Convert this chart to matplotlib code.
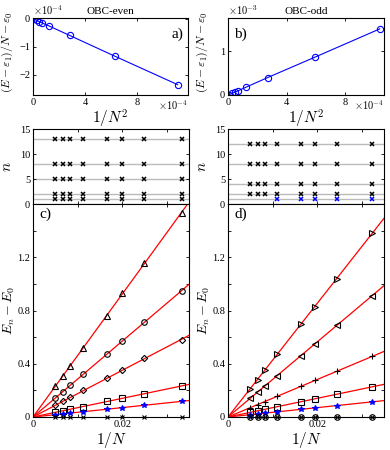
import numpy as np
import matplotlib
matplotlib.use("Agg")
import matplotlib.pyplot as plt
from matplotlib.ticker import FuncFormatter

plt.rcParams['font.family'] = ['Liberation Serif', 'DejaVu Serif']
plt.rcParams['mathtext.fontset'] = 'cm'
plt.rcParams['xtick.direction'] = 'in'
plt.rcParams['ytick.direction'] = 'in'
plt.rcParams['xtick.top'] = True
plt.rcParams['ytick.right'] = True
plt.rcParams['xtick.labelsize'] = 7.5
plt.rcParams['ytick.labelsize'] = 7.5
plt.rcParams['axes.linewidth'] = 0.8

# ---- top panels: (E - eps1)/N - eps0 vs 1/N^2 ----
invN2_even = [11.1e-4, 6.25e-4, 2.78e-4, 1.23e-4, 0.69e-4, 0.44e-4, 0.25e-4, 0.03e-4]
gap_even = [-2.35e-4, -1.33e-4, -0.59e-4, -0.26e-4, -0.15e-4, -0.095e-4, -0.055e-4, -0.01e-4]
invN2_odd = [10.41e-4, 5.95e-4, 2.69e-4, 1.21e-4, 0.68e-4, 0.44e-4, 0.25e-4, 0.03e-4]
gap_odd = [1.52e-3, 0.87e-3, 0.40e-3, 0.18e-3, 0.10e-3, 0.064e-3, 0.037e-3, 0.005e-3]

# ---- middle/bottom panels: x = 1/N ----
N_even = [200, 150, 120, 90, 60, 50, 40, 30]
N_odd = [201, 151, 121, 91, 61, 51, 41, 31]

# levels n (middle panels)
levels_even = [1, 2, 5, 8, 13]
levels_odd = [1, 2, 4, 8, 12]
levels_odd_black = [2, 4, 8, 12]
levels_odd_blue = [1]
blue_from_odd = 3  # blue crosses only for N <= 91

# excitation gaps E_n - E_0 (bottom panels)
gaps_even = {
    'tri': [0.23, 0.31, 0.38, 0.52, 0.76, 0.93, 1.16, 1.53],
    'circ': [0.14, 0.19, 0.24, 0.32, 0.47, 0.57, 0.71, 0.95],
    'diam': [0.09, 0.12, 0.15, 0.20, 0.29, 0.35, 0.44, 0.58],
    'sq': [0.035, 0.047, 0.058, 0.078, 0.117, 0.14, 0.175, 0.233],
    'star': [0.018, 0.023, 0.03, 0.04, 0.06, 0.07, 0.088, 0.117],
    'zero': [0, 0, 0, 0, 0, 0, 0, 0],
}
gaps_odd = {
    'rtri': [0.21, 0.28, 0.35, 0.47, 0.70, 0.83, 1.04, 1.38],
    'ltri': [0.14, 0.19, 0.23, 0.31, 0.46, 0.55, 0.69, 0.91],
    'plus': [0.07, 0.093, 0.116, 0.155, 0.23, 0.275, 0.343, 0.455],
    'sq': [0.035, 0.047, 0.058, 0.077, 0.115, 0.137, 0.171, 0.226],
    'star': [0.018, 0.023, 0.029, 0.039, 0.058, 0.069, 0.086, 0.113],
    'zero': [0, 0, 0, 0, 0, 0, 0, 0],
}

style_even = {
    'tri': dict(marker='^', mfc='none', mec='k'),
    'circ': dict(marker='o', mfc='none', mec='k'),
    'diam': dict(marker='D', mfc='none', mec='k', ms=3.2),
    'sq': dict(marker='s', mfc='none', mec='k'),
    'star': dict(marker='*', mfc='b', mec='b'),
    'zero': dict(marker='x', mfc='none', mec='k', ms=3),
}
style_odd = {
    'rtri': dict(marker='>', mfc='none', mec='k'),
    'ltri': dict(marker='<', mfc='none', mec='k'),
    'plus': dict(marker='+', mfc='none', mec='k', ms=5),
    'sq': dict(marker='s', mfc='none', mec='k'),
    'star': dict(marker='*', mfc='b', mec='b'),
    'zero': dict(marker='o', mfc='none', mec='k', ms=4),
}

W, H = 390, 450
fig = plt.figure(figsize=(W / 100, H / 100), dpi=100)


def box(l, r, t, b):
    return [l / W, 1 - b / H, (r - l) / W, (b - t) / H]


def sci(scale):
    return FuncFormatter(lambda v, p: ('%g' % round(v * scale, 6)).replace('-', '\u2212'))


# top panels
ax_a = fig.add_axes(box(33, 188, 18, 95))
ax_b = fig.add_axes(box(228, 384, 18, 95))
ax_a.plot(invN2_even, gap_even, 'o-', color='#0000ff', mfc='none', ms=4.5, lw=0.8, mew=0.8)
ax_b.plot(invN2_odd, gap_odd, 'o-', color='#0000ff', mfc='none', ms=4.5, lw=0.8, mew=0.8)
ax_a.set_xlim(-0.03e-4, 11.9e-4)
ax_a.set_ylim(-2.72e-4, 0.03e-4)
ax_a.set_xticks([0, 4e-4, 8e-4])
ax_a.set_yticks([-2e-4, -1e-4, 0])
ax_a.xaxis.set_major_formatter(sci(1e4))
ax_a.yaxis.set_major_formatter(sci(1e4))
ax_b.set_xlim(-0.03e-4, 10.7e-4)
ax_b.set_ylim(0, 1.77e-3)
ax_b.set_xticks([0, 4e-4, 8e-4])
ax_b.set_yticks([0, 1e-3])
ax_b.xaxis.set_major_formatter(sci(1e4))
ax_b.yaxis.set_major_formatter(sci(1e3))
for ax, title, ymul in [(ax_a, 'OBC-even', r'$\times10^{-4}$'), (ax_b, 'OBC-odd', r'$\times10^{-3}$')]:
    ax.set_title(title, fontsize=8, pad=3)
    ax.text(0.0, 1.01, ymul, transform=ax.transAxes, ha='left', va='bottom', fontsize=7.5)
    ax.text(1.0, -0.04, r'$\times10^{-4}$', transform=ax.transAxes, ha='right', va='top', fontsize=7.5)
    ax.set_xlabel(r'$1/N^2$', fontsize=11, labelpad=1)
    ax.set_ylabel(r'$(E-\varepsilon_1)/N-\varepsilon_0$', fontsize=8.5)
    ax.yaxis.set_label_coords(-0.115, 0.56)
    ax.tick_params(length=2.5, width=0.6, pad=2)
ax_a.text(0.97, 0.88, 'a)', transform=ax_a.transAxes, ha='right', va='top', fontsize=11)
ax_b.text(0.04, 0.88, 'b)', transform=ax_b.transAxes, ha='left', va='top', fontsize=11)

# middle & bottom panels
cols = [(33, 189, N_even, levels_even, gaps_even, style_even, 'c)'),
        (228, 384, N_odd, levels_odd, gaps_odd, style_odd, 'd)')]
for l, r, Ns, levels, gaps, styles, lab in cols:
    x = 1.0 / np.array(Ns)
    axm = fig.add_axes(box(l, r, 129, 204))
    axe = fig.add_axes(box(l, r, 204, 417))
    for n in levels:
        axm.axhline(n, color='#bbbbbb', lw=1.0, zorder=1)
    if lab == 'c)':
        for n in levels:
            axm.plot(x, [n] * len(x), 'x', color='k', ms=3.5, mew=1.1, zorder=3)
    else:
        for n in levels_odd_black:
            axm.plot(x, [n] * len(x), 'x', color='k', ms=3.5, mew=1.1, zorder=3)
        for n in levels_odd_blue:
            axm.plot(x[blue_from_odd:], [n] * len(x[blue_from_odd:]), 'x', color='b',
                     ms=3.5, mew=1.1, zorder=3)
    axm.set_ylim(0, 15)
    axm.set_yticks([0, 5, 10, 15])
    axm.set_xlim(0, 0.035)
    axm.set_xticks([0.01, 0.02, 0.03])
    axm.set_xticklabels([])
    axm.set_ylabel(r'$n$', fontsize=11)
    axm.yaxis.set_label_coords(-0.12, 0.5)
    axm.tick_params(length=2.5, width=0.6, pad=2)

    xx = np.array([0, 0.04])
    for key, y in gaps.items():
        y = np.array(y)
        slope = np.sum(x * y) / np.sum(x * x)
        if key != 'zero':
            axe.plot(xx, slope * xx, color='r', lw=0.9, zorder=2)
        st = dict(styles[key])
        ms = st.pop('ms', 4)
        axe.plot(x, y, ls='none', ms=ms, mew=0.8, zorder=3, clip_on=False, **st)
        if lab == 'd)' and key == 'zero':
            axe.plot(x, y, ls='none', marker='x', color='k', ms=2.5, mew=0.8, zorder=3, clip_on=False)
    axe.set_xlim(0, 0.035)
    axe.set_ylim(0, 1.6)
    axe.set_xticks([0, 0.01, 0.02, 0.03])
    axe.set_xticklabels(['0', '', '0.02', ''])
    axe.set_yticks(np.arange(0, 1.5, 0.2))
    axe.set_yticklabels(['0', '', '0.4', '', '0.8', '', '1.2', ''])
    axe.set_xlabel(r'$1/N$', fontsize=11, labelpad=1)
    axe.set_ylabel(r'$E_n-E_0$', fontsize=10)
    axe.yaxis.set_label_coords(-0.1, 0.5)
    axe.tick_params(length=2.5, width=0.6, pad=2)
    axe.text(0.04, 0.985, lab, transform=axe.transAxes, ha='left', va='top', fontsize=11)

fig.savefig('out.png', dpi=100)
